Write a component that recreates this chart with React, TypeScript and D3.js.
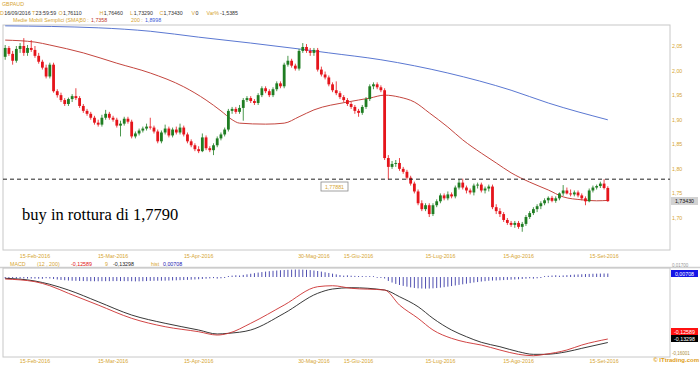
import React from 'react';
import * as d3 from 'd3';

// ---- DATA ----
// daily candles GBPAUD, [open, high, low, close]
const candles: number[][] = [
  [2.028,2.052,2.022,2.046],[2.046,2.050,2.030,2.034],[2.034,2.040,2.012,2.020],[2.020,2.050,2.016,2.044],
  [2.044,2.056,2.036,2.050],[2.050,2.066,2.030,2.036],[2.036,2.052,2.030,2.046],[2.046,2.062,2.038,2.042],
  [2.042,2.050,2.026,2.030],[2.030,2.036,2.014,2.018],[2.018,2.022,2.002,2.006],[2.006,2.012,1.984,1.988],
  [1.988,2.016,1.984,2.012],[2.012,2.016,1.955,1.958],[1.958,1.962,1.945,1.950],[1.950,1.955,1.936,1.940],
  [1.940,1.944,1.928,1.932],[1.932,1.945,1.928,1.942],[1.942,1.952,1.936,1.948],[1.948,1.964,1.940,1.944],
  [1.944,1.948,1.924,1.928],[1.928,1.932,1.914,1.918],[1.918,1.922,1.908,1.912],[1.912,1.916,1.900,1.904],
  [1.904,1.908,1.890,1.894],[1.894,1.900,1.886,1.890],[1.890,1.910,1.886,1.904],[1.904,1.920,1.900,1.912],
  [1.912,1.916,1.900,1.904],[1.904,1.908,1.896,1.900],[1.900,1.904,1.884,1.888],[1.888,1.898,1.866,1.892],
  [1.892,1.906,1.888,1.902],[1.902,1.906,1.892,1.896],[1.896,1.900,1.862,1.866],[1.866,1.876,1.862,1.872],
  [1.872,1.882,1.868,1.878],[1.878,1.886,1.874,1.882],[1.882,1.892,1.878,1.886],[1.886,1.904,1.880,1.884],
  [1.884,1.888,1.872,1.876],[1.876,1.880,1.852,1.856],[1.856,1.878,1.852,1.874],[1.874,1.890,1.870,1.882],
  [1.882,1.886,1.864,1.868],[1.868,1.884,1.864,1.880],[1.880,1.886,1.870,1.874],[1.874,1.892,1.870,1.884],
  [1.884,1.888,1.866,1.870],[1.870,1.874,1.852,1.856],[1.856,1.860,1.844,1.848],[1.848,1.852,1.836,1.840],
  [1.840,1.846,1.832,1.836],[1.836,1.872,1.834,1.864],[1.864,1.868,1.838,1.842],[1.842,1.846,1.834,1.838],
  [1.838,1.852,1.828,1.848],[1.848,1.866,1.844,1.862],[1.862,1.874,1.858,1.870],[1.870,1.884,1.866,1.880],
  [1.880,1.922,1.876,1.918],[1.918,1.926,1.912,1.922],[1.922,1.926,1.912,1.916],[1.916,1.930,1.912,1.924],
  [1.924,1.944,1.898,1.940],[1.940,1.948,1.936,1.944],[1.944,1.948,1.934,1.938],[1.938,1.942,1.930,1.934],
  [1.934,1.954,1.930,1.950],[1.950,1.968,1.946,1.964],[1.964,1.968,1.954,1.958],[1.958,1.962,1.946,1.950],
  [1.950,1.966,1.946,1.962],[1.962,1.978,1.958,1.974],[1.974,1.978,1.964,1.968],[1.968,2.016,1.964,2.012],
  [2.012,2.030,2.008,2.020],[2.020,2.024,2.006,2.010],[2.010,2.014,2.000,2.004],[2.004,2.044,2.000,2.040],
  [2.040,2.056,2.036,2.048],[2.048,2.054,2.036,2.040],[2.040,2.046,2.030,2.036],[2.036,2.046,2.030,2.042],
  [2.042,2.046,1.998,2.002],[2.002,2.008,1.988,1.992],[1.992,1.998,1.982,1.986],[1.986,1.990,1.968,1.972],
  [1.972,1.976,1.956,1.960],[1.960,1.978,1.950,1.954],[1.954,1.958,1.942,1.946],[1.946,1.950,1.936,1.940],
  [1.940,1.944,1.928,1.932],[1.932,1.936,1.922,1.926],[1.926,1.930,1.912,1.918],[1.918,1.922,1.906,1.914],
  [1.914,1.930,1.910,1.926],[1.926,1.946,1.922,1.942],[1.942,1.972,1.938,1.968],[1.968,1.976,1.962,1.972],
  [1.972,1.976,1.962,1.966],[1.966,1.970,1.956,1.960],[1.960,1.964,1.818,1.822],[1.822,1.828,1.778,1.804],
  [1.804,1.816,1.800,1.810],[1.810,1.818,1.804,1.812],[1.812,1.822,1.796,1.800],[1.800,1.804,1.790,1.794],
  [1.794,1.798,1.778,1.782],[1.782,1.786,1.766,1.770],[1.770,1.774,1.750,1.754],[1.754,1.758,1.726,1.730],
  [1.730,1.736,1.714,1.718],[1.718,1.730,1.714,1.726],[1.726,1.730,1.702,1.708],[1.708,1.730,1.704,1.726],
  [1.726,1.738,1.722,1.734],[1.734,1.750,1.730,1.746],[1.746,1.750,1.736,1.740],[1.740,1.754,1.736,1.748],
  [1.748,1.752,1.740,1.744],[1.744,1.766,1.740,1.762],[1.762,1.779,1.758,1.772],[1.772,1.780,1.758,1.762],
  [1.762,1.766,1.750,1.756],[1.756,1.760,1.748,1.752],[1.752,1.770,1.746,1.766],[1.766,1.772,1.760,1.768],
  [1.768,1.772,1.752,1.756],[1.756,1.764,1.750,1.760],[1.760,1.768,1.754,1.764],[1.764,1.768,1.718,1.722],
  [1.722,1.728,1.708,1.714],[1.714,1.720,1.702,1.708],[1.708,1.712,1.692,1.696],[1.696,1.700,1.686,1.690],
  [1.690,1.694,1.682,1.686],[1.686,1.694,1.680,1.690],[1.690,1.694,1.678,1.682],[1.682,1.692,1.672,1.688],
  [1.688,1.706,1.684,1.702],[1.702,1.714,1.698,1.710],[1.710,1.722,1.706,1.718],[1.718,1.728,1.712,1.724],
  [1.724,1.734,1.718,1.730],[1.730,1.740,1.726,1.736],[1.736,1.744,1.730,1.741],[1.741,1.745,1.732,1.735],
  [1.735,1.744,1.731,1.740],[1.740,1.752,1.736,1.750],[1.750,1.767,1.745,1.756],[1.756,1.762,1.748,1.750],
  [1.750,1.758,1.744,1.748],[1.748,1.756,1.744,1.752],[1.752,1.756,1.742,1.746],[1.746,1.750,1.736,1.740],
  [1.740,1.744,1.726,1.734],[1.734,1.760,1.732,1.756],[1.756,1.766,1.752,1.762],[1.762,1.768,1.758,1.765],
  [1.765,1.774,1.761,1.770],[1.770,1.779,1.758,1.761],[1.7611,1.7646,1.7329,1.7343],
];

// simple moving averages, read at candle indices
const sma50Idx = [0, 8, 12, 21, 30, 39, 48, 54, 58, 61, 63, 70, 75, 79, 83, 92, 98, 102, 106, 110, 114, 119, 123, 128, 132, 136, 141, 146, 150, 155, 159, 162];
const sma50Val = [2.062, 2.058, 2.052, 2.036, 2.015, 1.995, 1.967, 1.940, 1.918, 1.900, 1.893, 1.891, 1.893, 1.906, 1.920, 1.936, 1.944, 1.950, 1.946, 1.936, 1.914, 1.885, 1.859, 1.832, 1.812, 1.792, 1.773, 1.757, 1.743, 1.737, 1.735, 1.7358];
const sma200Idx = [0, 25, 39, 52, 66, 79, 87, 101, 119, 136, 146, 162];
const sma200Val = [2.091, 2.087, 2.080, 2.068, 2.056, 2.044, 2.036, 2.022, 1.995, 1.960, 1.934, 1.8998];

// MACD (red) and signal (black), read at candle indices
const macdIdx = [0, 8, 12, 17, 25, 34, 43, 52, 57, 60, 66, 75, 84, 88, 93, 102, 106, 111, 115, 120, 124, 128, 133, 138, 142, 145, 151, 155, 162];
const macdVal = [-0.0041, -0.0095, -0.0177, -0.0331, -0.0569, -0.0839, -0.1009, -0.1111, -0.1178, -0.1143, -0.0940, -0.0569, -0.0197, -0.0177, -0.0229, -0.0264, -0.0569, -0.0839, -0.1076, -0.1245, -0.1326, -0.1381, -0.1482, -0.1570, -0.1598, -0.1570, -0.1482, -0.1381, -0.12589];
const signalVal = [-0.0026, -0.0081, -0.0148, -0.0264, -0.0502, -0.0772, -0.0940, -0.1076, -0.1157, -0.1143, -0.1076, -0.0737, -0.0331, -0.0244, -0.0217, -0.0264, -0.0400, -0.0603, -0.0839, -0.1076, -0.1212, -0.1326, -0.1415, -0.1517, -0.1570, -0.1570, -0.1517, -0.1448, -0.13298];
// MACD histogram, one per candle
const histVal = [
  -0.0012,-0.0013,-0.0014,-0.0015,-0.0015,-0.0014,-0.0014,-0.0015,-0.0016,-0.0018,-0.0020,
  -0.0024,-0.0030,-0.0040,-0.0050,-0.0060,-0.0066,-0.0072,-0.0076,-0.0078,-0.0080,
  -0.0082,-0.0084,-0.0085,-0.0086,-0.0086,-0.0085,-0.0084,-0.0084,-0.0083,-0.0082,
  -0.0083,-0.0084,-0.0084,-0.0086,-0.0088,-0.0087,-0.0085,-0.0082,-0.0079,-0.0077,
  -0.0076,-0.0075,-0.0074,-0.0072,-0.0070,-0.0067,-0.0064,-0.0061,-0.0058,-0.0054,
  -0.0050,-0.0045,-0.0040,-0.0034,-0.0028,-0.0022,-0.0016,-0.0010,-0.0004,0.0004,
  0.0012,0.0020,0.0030,0.0042,0.0054,0.0066,0.0078,0.0090,0.0100,0.0110,
  0.0118,0.0126,0.0132,0.0138,0.0142,0.0146,0.0150,0.0152,0.0152,0.0150,
  0.0146,0.0140,0.0132,0.0122,0.0110,0.0096,0.0082,0.0068,0.0054,0.0040,0.0028,
  0.0018,0.0010,0.0006,0.0004,0.0003,0.0002,0.0002,0.0001,-0.0001,-0.0003,
  -0.0030,-0.0080,-0.0112,-0.0140,-0.0162,-0.0180,-0.0196,-0.0210,-0.0222,-0.0230,
  -0.0234,-0.0236,-0.0234,-0.0230,-0.0224,-0.0216,-0.0206,-0.0196,-0.0184,-0.0172,
  -0.0160,-0.0148,-0.0136,-0.0124,-0.0112,-0.0102,-0.0092,-0.0084,-0.0076,-0.0072,
  -0.0070,-0.0066,-0.0062,-0.0058,-0.0054,-0.0050,-0.0046,-0.0040,-0.0034,-0.0026,
  -0.0018,-0.0010,-0.0004,0.0002,0.0008,0.0014,0.0020,0.0026,0.0032,0.0038,
  0.0043,0.0048,0.0052,0.0056,0.0060,0.0063,0.0066,0.0068,0.0070,0.0071,0.00708,
];

const priceTicks = [2.05, 2.0, 1.95, 1.9, 1.85, 1.8, 1.75, 1.7];
const dateTickIdx = [8, 29, 52, 83, 95, 117, 138, 161];
const dateTickLabels = ['15-Feb-2016', '15-Mar-2016', '15-Apr-2016', '30-Mag-2016', '15-Giu-2016', '15-Lug-2016', '15-Ago-2016', '15-Set-2016'];
const headerKeys = ['D', 'T', 'O', 'H', 'L', 'C', 'V', 'Var%'];
const headerValues = ['16/09/2016', '23:59:59', '1,76110', '1,76460', '1,73290', '1,73430', '0', '-1,5385'];
const breakoutLevel = 1.779;
const breakoutLabel = '1,77881';
const noteText = 'buy in rottura di 1,7790';
const macdLast = -0.12589;
const signalLast = -0.13298;
const histLast = 0.00708;
const macdScaleTop = '0,01700';
const macdScaleBottom = '-0,16001';

// ---- STYLE ----
const GOLD = '#d6a531';
const GREEN = '#1f7d22';
const RED = '#e5141b';
const FONT = 'Liberation Sans, Arial, sans-serif';
const fmt = (v: number, d: number) => v.toFixed(d).replace('.', ',');

export default function App() {
  const left = 3, right = 670;
  const mainTop = 25, mainBottom = 250;
  const macdTop = 268, macdBottom = 357;

  const x = d3.scaleLinear().domain([0, candles.length - 1]).range([5.2, 607.8]);
  const y = d3.scaleLinear().domain([1.7, 2.05]).range([218, 46]);
  const ym = d3.scaleLinear().domain([-0.1624, 0.0183]).range([macdBottom, macdTop]);

  const smaLine = d3.line<number>().curve(d3.curveMonotoneX);
  const sma50Path = smaLine(sma50Idx.map((i, k) => [x(i), y(sma50Val[k])] as any)) as string;
  const sma200Path = smaLine(sma200Idx.map((i, k) => [x(i), y(sma200Val[k])] as any)) as string;
  const macdPath = smaLine(macdIdx.map((i, k) => [x(i), ym(macdVal[k])] as any)) as string;
  const sigPath = smaLine(macdIdx.map((i, k) => [x(i), ym(signalVal[k])] as any)) as string;

  const bw = 2.8;
  const small = 5.3;
  // header key positions / value positions (layout)
  const keyX = [0, 32, 58.5, 99.5, 130, 159.5, 191.5, 206.5];
  const valX = [4.2, 35.6, 63, 103.8, 133.8, 163.6, 195.6, 220];

  return (
    <svg width={700} height={365} style={{ position: 'absolute', left: 0, top: 0, background: '#fff' }} fontFamily={FONT}>
      <rect x={0} y={0} width={700} height={365} fill="#fff" />
      {/* header */}
      <text x={2} y={6} fontSize={small} fill={GOLD}>GBPAUD</text>
      <text y={14.5} fontSize={small}>
        {headerKeys.map((k, i) => (
          <React.Fragment key={k}>
            <tspan x={keyX[i]} fill={GOLD}>{k}</tspan>
            <tspan x={valX[i]} fill="#333">{headerValues[i]}</tspan>
          </React.Fragment>
        ))}
      </text>
      <text y={22} fontSize={small}>
        <tspan x={13} fill={GOLD}>Medie Mobili Semplici (SMA)</tspan>
        <tspan x={80} fill={GOLD}>50 :</tspan><tspan x={91} fill="#c0392b">{fmt(sma50Val[sma50Val.length - 1], 4)}</tspan>
        <tspan x={131} fill={GOLD}>200 :</tspan><tspan x={145} fill="#3b5bd6">{fmt(sma200Val[sma200Val.length - 1], 4)}</tspan>
      </text>

      {/* main panel */}
      <rect x={left} y={mainTop} width={right - left} height={mainBottom - mainTop} fill="none" stroke="#c8c8c8" strokeWidth={1} />
      <path d={sma200Path} fill="none" stroke="#5b78d2" strokeWidth={1} />
      <path d={sma50Path} fill="none" stroke="#c4463f" strokeWidth={1} />
      {candles.map((c, i) => {
        const [o, h, l, cl] = c;
        const up = cl >= o;
        const col = up ? GREEN : RED;
        const cx = x(i);
        const top = y(Math.max(o, cl));
        const bot = y(Math.min(o, cl));
        return (
          <g key={i}>
            <line x1={cx} x2={cx} y1={y(h)} y2={y(l)} stroke={col} strokeWidth={0.8} />
            <rect x={cx - bw / 2} y={top} width={bw} height={Math.max(0.8, bot - top)} fill={col} />
          </g>
        );
      })}
      <line x1={left} x2={right} y1={y(breakoutLevel)} y2={y(breakoutLevel)} stroke="#222" strokeWidth={1} strokeDasharray="4,3" />
      <rect x={321} y={182} width={27} height={9} fill="#fff" stroke="#8a8a8a" strokeWidth={0.8} />
      <text x={334.5} y={188.6} fontSize={small} fill={GOLD} textAnchor="middle">{breakoutLabel}</text>
      <text x={22} y={220} fontSize={16.5} fontFamily="Liberation Serif, Times New Roman, serif" fill="#000">{noteText}</text>

      {/* price axis */}
      {priceTicks.map((t) => (
        <text key={t} x={672} y={y(t) + 2} fontSize={small} fill={GOLD}>{fmt(t, 2)}</text>
      ))}
      <rect x={671} y={197} width={27} height={8} fill="#d2d2d2" />
      <text x={684.5} y={203} fontSize={small} fill="#111" textAnchor="middle">{fmt(candles[candles.length - 1][3], 5)}</text>

      {/* date axis main */}
      {dateTickIdx.map((i, k) => (
        <text key={k} x={x(i)} y={258} fontSize={small} fill={GOLD} textAnchor="middle">{dateTickLabels[k]}</text>
      ))}

      {/* MACD header */}
      <text y={266} fontSize={small}>
        <tspan x={10} fill={GOLD}>MACD</tspan>
        <tspan x={37} fill={GOLD}>(12 , 200)</tspan>
        <tspan x={71} fill="#e01010">{fmt(macdLast, 5)}</tspan>
        <tspan x={105} fill={GOLD}>9</tspan>
        <tspan x={113} fill="#222">{fmt(signalLast, 5)}</tspan>
        <tspan x={151} fill={GOLD}>hist</tspan>
        <tspan x={163} fill="#2020b0">{fmt(histLast, 5)}</tspan>
      </text>

      {/* MACD panel */}
      <line x1={0} x2={700} y1={macdTop - 0.5} y2={macdTop - 0.5} stroke="#d0d0d0" strokeWidth={1.5} />
      <rect x={left} y={macdTop} width={right - left} height={macdBottom - macdTop} fill="none" stroke="#c8c8c8" strokeWidth={1} />
      {histVal.map((v, i) => (
        <line key={i} x1={x(i)} x2={x(i)} y1={ym(0)} y2={ym(v) + (Math.abs(ym(v) - ym(0)) < 1 ? (v >= 0 ? -0.8 : 0.8) : 0)} stroke="#3c3ca8" strokeWidth={0.9} />
      ))}
      <path d={sigPath} fill="none" stroke="#222" strokeWidth={0.9} />
      <path d={macdPath} fill="none" stroke="#cc3030" strokeWidth={0.9} />

      {/* MACD right labels */}
      <text x={672} y={266.5} fontSize={4.5} fill="#999">{macdScaleTop}</text>
      <rect x={671} y={270} width={27} height={7} fill="#1414e6" />
      <text x={684.5} y={275.5} fontSize={small} fill="#fff" textAnchor="middle">{fmt(histLast, 5)}</text>
      <rect x={671} y={328} width={27} height={7} fill="#ff1010" />
      <text x={684.5} y={333.5} fontSize={small} fill="#fff" textAnchor="middle">{fmt(macdLast, 5)}</text>
      <rect x={671} y={335} width={27} height={7} fill="#000" />
      <text x={684.5} y={340.5} fontSize={small} fill="#fff" textAnchor="middle">{fmt(signalLast, 5)}</text>
      <text x={672} y={355} fontSize={4.5} fill="#b09040">{macdScaleBottom}</text>

      {/* date axis MACD */}
      {dateTickIdx.map((i, k) => (
        <text key={k} x={x(i)} y={363} fontSize={small} fill={GOLD} textAnchor="middle">{dateTickLabels[k]}</text>
      ))}
      <text x={699} y={362} fontSize={6} fontWeight="bold" fill="#e0a020" textAnchor="end">© ITtrading.com</text>
    </svg>
  );
}
